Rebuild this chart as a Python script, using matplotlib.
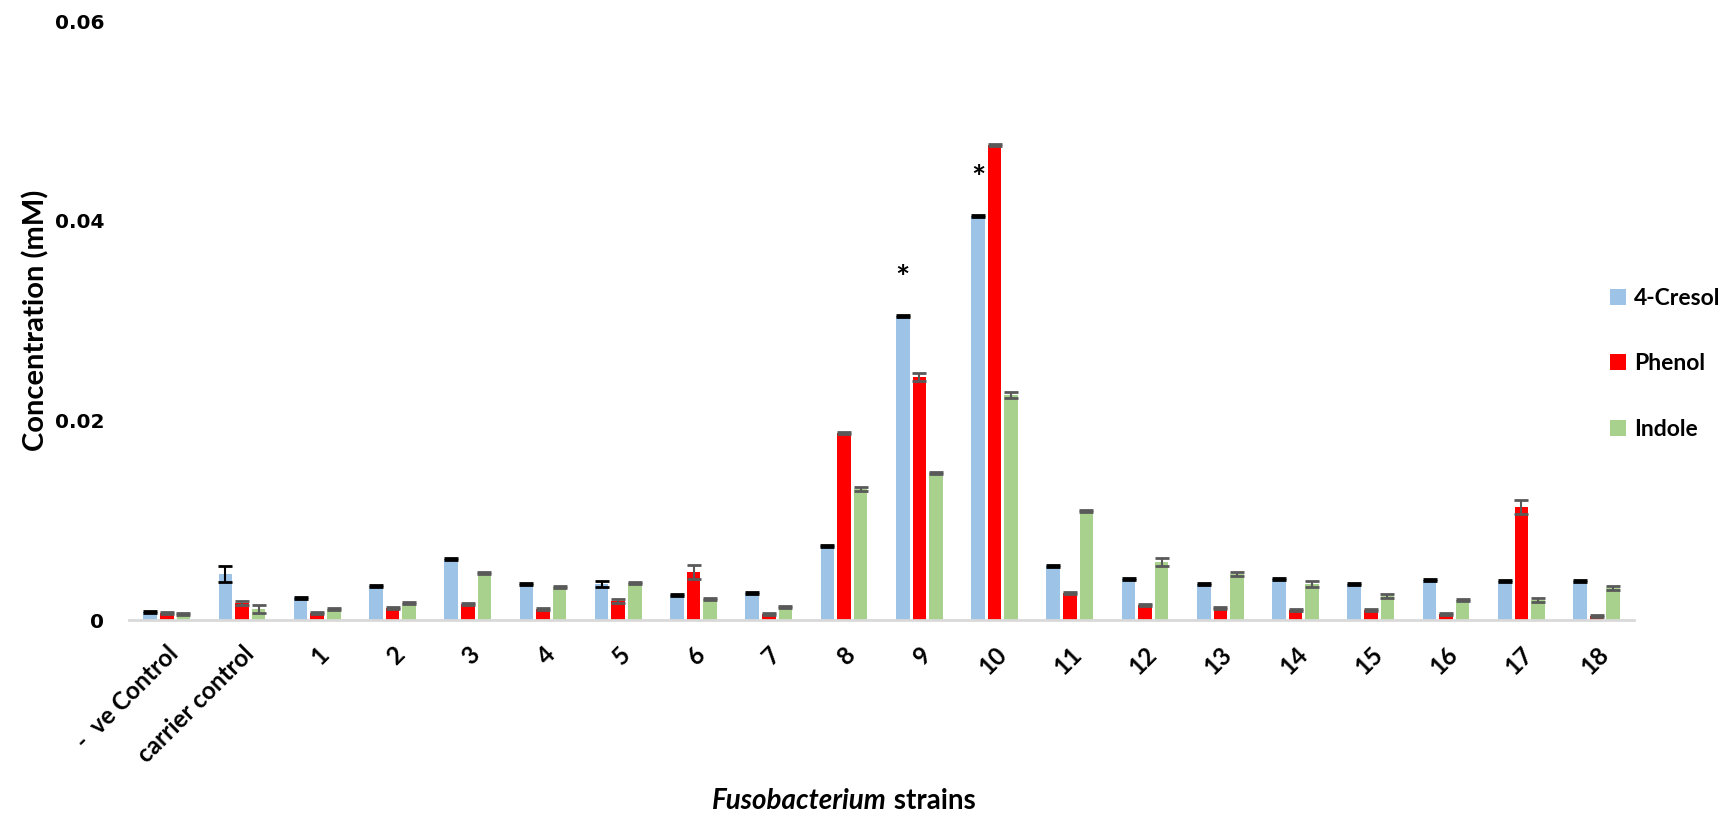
import matplotlib
matplotlib.use("Agg")
import matplotlib.pyplot as plt
import numpy as np

# data
categories = ['-  ve Control', 'carrier control', '1', '2', '3', '4', '5', '6', '7', '8',
              '9', '10', '11', '12', '13', '14', '15', '16', '17', '18']
series_names = ['4-Cresol', 'Phenol', 'Indole']

cresol = [0.00085, 0.0046, 0.0022, 0.0034, 0.0061, 0.0036, 0.0036, 0.0025, 0.0027, 0.0074,
          0.0305, 0.0405, 0.0054, 0.0041, 0.0036, 0.0041, 0.0036, 0.0040, 0.0039, 0.0039]
cresol_err = [0.0001, 0.0008, 0.0001, 0.0001, 0.0001, 0.0001, 0.0003, 0.0001, 0.0001, 0.0001,
              0.0001, 0.0001, 0.0001, 0.0001, 0.0001, 0.0001, 0.0001, 0.0001, 0.0001, 0.0001]
phenol = [0.00075, 0.0017, 0.00067, 0.0012, 0.0016, 0.0011, 0.0019, 0.0048, 0.00057, 0.0187,
          0.0244, 0.0476, 0.0027, 0.0015, 0.0012, 0.0010, 0.0010, 0.00063, 0.0113, 0.0004]
phenol_err = [0.0001, 0.0002, 0.0001, 0.0001, 0.0001, 0.0001, 0.0002, 0.0007, 0.0001, 0.0001,
              0.0004, 0.0001, 0.0001, 0.0001, 0.0001, 0.0001, 0.0001, 0.0001, 0.0007, 0.0001]
indole = [0.00065, 0.0011, 0.00115, 0.0017, 0.0047, 0.0033, 0.0037, 0.0021, 0.0013, 0.0131,
          0.0147, 0.0225, 0.0109, 0.0058, 0.0046, 0.0036, 0.0024, 0.0020, 0.0020, 0.0032]
indole_err = [0.0001, 0.0004, 0.0001, 0.0001, 0.0001, 0.0001, 0.0001, 0.0001, 0.0001, 0.0002,
              0.0001, 0.0003, 0.0001, 0.0004, 0.0002, 0.0003, 0.0002, 0.0001, 0.0002, 0.0002]

# groups marked as significant (asterisk above 4-Cresol bar)
star_groups = ['9', '10']

colors = ['#9DC3E6', '#FF0000', '#A9D18E']
err_colors = ['#000000', '#595959', '#595959']

label_font = ['Lato', 'DejaVu Sans']

fig = plt.figure(figsize=(17.33, 8.17), dpi=100)
ax = fig.add_axes([0.0745, 0.2411, 0.8685, 0.7329])

x = np.arange(len(categories))
w = 0.18
offsets = [-0.22, 0.0, 0.22]
values = [cresol, phenol, indole]
errors = [cresol_err, phenol_err, indole_err]

for vals, errs, off, c, ec, name in zip(values, errors, offsets, colors, err_colors, series_names):
    ax.bar(x + off, vals, width=w, color=c, label=name, zorder=2)
    ax.errorbar(x + off, vals, yerr=errs, fmt='none', ecolor=ec, elinewidth=1.5,
                capsize=4.7, capthick=2, zorder=3)

for g in star_groups:
    i = categories.index(g)
    ax.text(x[i] + offsets[0], cresol[i] + 0.0022, '*', ha='center', va='bottom',
            fontsize=24, fontweight='bold', family=label_font)

ax.set_xlim(-0.5, len(categories) - 0.5)
ax.set_ylim(0, 0.06)
ax.set_yticks([0, 0.02, 0.04, 0.06])
ax.set_yticklabels(['0', '0.02', '0.04', '0.06'], fontsize=14.5, fontweight='bold',
                   family='DejaVu Sans')
ax.set_xticks(x)
ax.set_xticklabels(categories, rotation=45, ha='right', rotation_mode='anchor',
                   fontsize=17.5, fontweight='bold', family=label_font)
ax.tick_params(axis='both', length=0)
ax.tick_params(axis='y', pad=18)
ax.tick_params(axis='x', pad=16)

for s in ['top', 'right', 'left']:
    ax.spines[s].set_visible(False)
ax.spines['bottom'].set_color('#D9D9D9')
ax.spines['bottom'].set_linewidth(2)

ax.set_ylabel('Concentration (mM)', fontsize=21, fontweight='bold', family=label_font)
ax.yaxis.set_label_coords(-0.053, 0.5)

# x label: italic genus name followed by plain bold word
t1 = fig.text(887 / 1733, 1 - 801 / 817, 'Fusobacterium', ha='right', va='center',
              fontsize=20, fontweight='bold', fontstyle='italic', family=label_font)
ax.annotate(' strains', xy=(1, 0), xycoords=t1, ha='left', va='bottom',
            fontsize=20, fontweight='bold', family=label_font, annotation_clip=False)

leg = ax.legend(loc='center left', bbox_to_anchor=(0.984, 0.428), frameon=False,
                prop={'family': label_font, 'weight': 'bold', 'size': 16.5},
                handlelength=0.7, handleheight=0.7, labelspacing=1.95,
                handletextpad=0.35, borderaxespad=0, borderpad=0)

fig.savefig('out.png', dpi=100)
